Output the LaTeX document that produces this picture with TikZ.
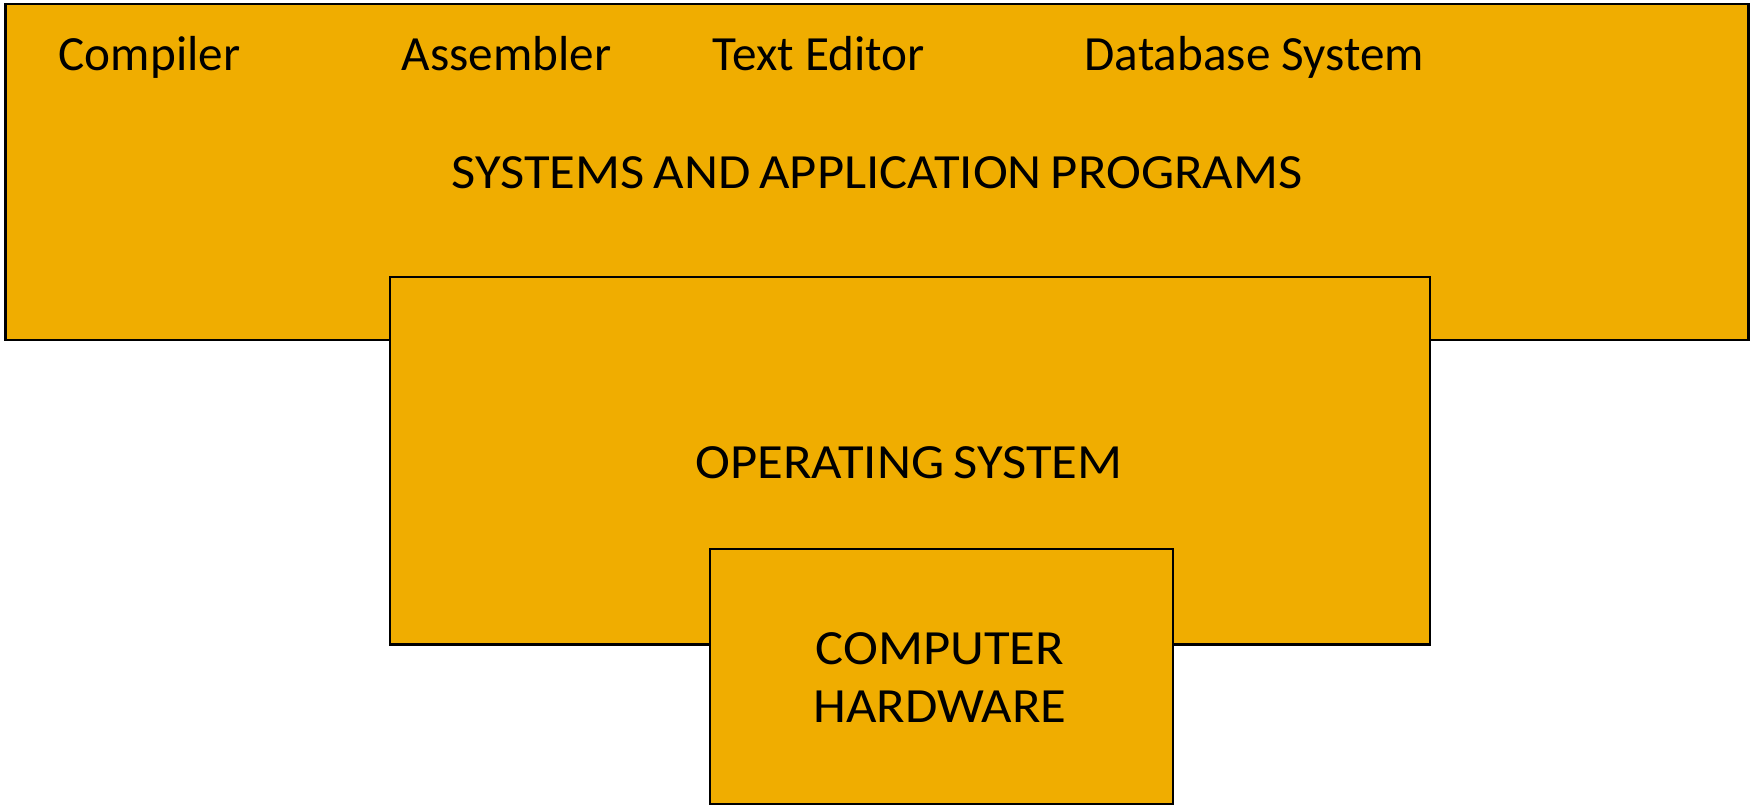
\documentclass[tikz,border=0pt]{standalone}
\usepackage{fontspec}
\setmainfont{Carlito}
\newfontfamily\capsfont[FakeStretch=1.07,WordSpace=0.75]{Carlito}
\usetikzlibrary{positioning}
\definecolor{layerfill}{RGB}{240,173,0}
\tikzset{
  layer/.style={draw=black, line width=0.6pt, fill=layerfill, inner sep=0pt},
  lbl/.style={inner sep=0pt, anchor=base west, font=\fontsize{14}{17}\selectfont},
  title/.style={inner sep=0pt, anchor=base, align=center, font=\capsfont\fontsize{14}{16.5}\selectfont}
}
\begin{document}
\begin{tikzpicture}[x=0.1mm,y=-0.1mm]
\useasboundingbox (0,0) rectangle (1750,805);
% layers, outermost first
\node[layer, minimum width=1743*0.1mm, minimum height=335.5*0.1mm] (apps) at (877,172) {};
\node[layer, minimum width=1040*0.1mm, minimum height=367.5*0.1mm] (os) at (910,460.7) {};
\node[layer, minimum width=463*0.1mm, minimum height=255*0.1mm] (hw) at (941.5,676.5) {};
% program names
\node[lbl] (compiler) at (58,70.5) {Compiler};
\node[lbl] (assembler) at (401,70.5) {Assembler};
\node[lbl] (editor) at (712,70.5) {Text Editor};
\node[lbl] (dbms) at (1084,70.5) {Database System};
% layer titles
\node[title] (appstitle) at (877,189) {SYSTEMS AND APPLICATION PROGRAMS};
\node[title] (ostitle) at (909,478) {OPERATING SYSTEM};
\node[title, anchor=north] (hwtitle) at (940,632) {COMPUTER\\HARDWARE};
\end{tikzpicture}
\end{document}
